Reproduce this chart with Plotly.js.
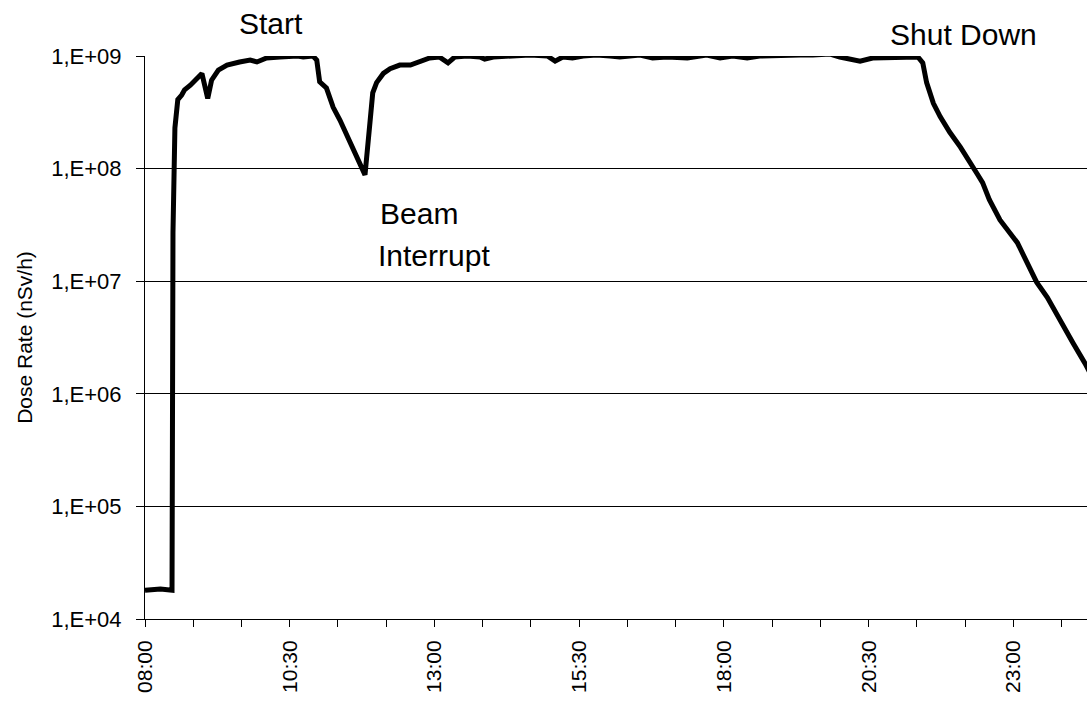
<!DOCTYPE html>
<html>
<head>
<meta charset="utf-8">
<script src="https://cdn.plot.ly/plotly-3.0.1.min.js"></script>
<style>
  html, body { margin: 0; padding: 0; background: #ffffff; }
  #chart { width: 1087px; height: 702px; }
</style>
</head>
<body>
<div id="chart"></div>
<script>
// ---- Data ----
// Time of day (values after midnight belong to the next day)
const times = [
  "08:00","08:16","08:28","08:29","08:31","08:34","08:38","08:41","08:47","08:52",
  "08:59","09:05","09:09","09:16","09:25","09:38","09:49","09:56","10:06","10:20",
  "10:38","10:44","10:54","10:58","11:01","11:08","11:15","11:22","11:46","11:48",
  "11:53","11:56","12:00","12:07","12:14","12:24","12:35","12:45","12:55","13:05",
  "13:14","13:21","13:34","13:47","13:52","14:01","14:18","14:39","14:57","15:05",
  "15:13","15:23","15:34","15:48","16:02","16:12","16:33","16:46","17:01","17:22",
  "17:42","17:56","18:09","18:24","18:37","18:58","19:19","19:32","19:50","20:00",
  "20:21","20:34","20:55","21:18","21:21","21:26","21:30","21:37","21:44","21:54",
  "22:05","22:22","22:28","22:35","22:46","23:04","23:17","23:24","23:35","23:48",
  "00:02","00:14","00:19"
];
// Dose rate in nSv/h
const doseRate = [
  1.8e4, 1.85e4, 1.8e4, 2.7e7, 2.3e8, 4.1e8, 4.5e8, 5.0e8, 5.5e8, 6.1e8,
  7.0e8, 4.2e8, 6.1e8, 7.5e8, 8.3e8, 8.85e8, 9.2e8, 8.85e8, 9.6e8, 9.8e8,
  1.0e9, 9.8e8, 1.0e9, 9.2e8, 5.9e8, 5.2e8, 3.5e8, 2.7e8, 9.1e7, 8.8e7,
  2.5e8, 4.7e8, 5.8e8, 7.0e8, 7.7e8, 8.3e8, 8.3e8, 9.0e8, 9.6e8, 9.8e8,
  8.7e8, 9.8e8, 1.0e9, 9.8e8, 9.4e8, 9.8e8, 1.0e9, 1.02e9, 1.0e9, 9.0e8,
  9.8e8, 9.6e8, 1.0e9, 1.02e9, 1.0e9, 9.8e8, 1.02e9, 9.6e8, 9.8e8, 9.6e8,
  1.02e9, 9.6e8, 1.0e9, 9.6e8, 1.0e9, 1.02e9, 1.02e9, 1.02e9, 1.04e9, 9.8e8,
  9.0e8, 9.6e8, 9.8e8, 9.8e8, 9.8e8, 8.7e8, 5.8e8, 3.8e8, 2.9e8, 2.1e8,
  1.55e8, 9.1e7, 7.5e7, 5.3e7, 3.5e7, 2.2e7, 1.34e7, 9.8e6, 7.2e6, 4.5e6,
  2.8e6, 1.87e6, 1.55e6
];

// Axis ticks
const xTickTimes = [
  "08:00","08:50","09:40","10:30","11:20","12:10","13:00","13:50","14:40","15:30",
  "16:20","17:10","18:00","18:50","19:40","20:30","21:20","22:10","23:00","23:50"
];
const xTickLabels = [
  "08:00","","","10:30","","","13:00","","","15:30",
  "","","18:00","","","20:30","","","23:00",""
];
const yTickVals = [1e4, 1e5, 1e6, 1e7, 1e8, 1e9];
const yTickLabels = ["1,E+04","1,E+05","1,E+06","1,E+07","1,E+08","1,E+09"];

// Annotation labels
const startLabel = {text: "Start", time: "10:11"};
const shutLabel = {text: "Shut Down", time: "22:08"};
const beamLabel = {text: "Beam", time: "12:44"};
const interruptLabel = {text: "Interrupt", time: "13:00"};

// ---- helpers ----
function toHours(s) {
  const [h, m] = s.split(":").map(Number);
  let v = h + m / 60;
  if (v < 8) v += 24; // next day
  return v;
}

const FONT = "'Liberation Sans', Arial, Helvetica, sans-serif";
const xs = times.map(toHours);

const trace = {
  x: xs,
  y: doseRate,
  type: "scatter",
  mode: "lines",
  line: {color: "#000000", width: 5, shape: "linear"},
  hoverinfo: "skip",
  showlegend: false
};

const layout = {
  width: 1087,
  height: 702,
  margin: {l: 145, r: 0, t: 56, b: 83, pad: 0},
  paper_bgcolor: "#ffffff",
  plot_bgcolor: "#ffffff",
  font: {family: FONT, color: "#000000", size: 22},
  showlegend: false,
  xaxis: {
    type: "linear",
    range: [8, 24.27],
    tickmode: "array",
    tickvals: xTickTimes.map(toHours),
    ticktext: xTickLabels,
    tickangle: -90,
    ticks: "outside",
    ticklen: 7,
    tickwidth: 1,
    tickcolor: "#000000",
    showline: true,
    linecolor: "#000000",
    linewidth: 1,
    showgrid: false,
    zeroline: false,
    ticklabelstandoff: 5,
    tickfont: {family: FONT, size: 21, color: "#000000"},
    fixedrange: true
  },
  yaxis: {
    type: "log",
    range: [4, 9],
    tickmode: "array",
    tickvals: yTickVals,
    ticktext: yTickLabels,
    ticks: "outside",
    ticklen: 8,
    tickwidth: 1,
    tickcolor: "#000000",
    showline: true,
    linecolor: "#000000",
    linewidth: 1,
    showgrid: true,
    gridcolor: "#000000",
    gridwidth: 1,
    zeroline: false,
    ticklabelstandoff: 10,
    tickfont: {family: FONT, size: 22, color: "#000000"},
    title: {text: "Dose Rate (nSv/h)", font: {family: FONT, size: 21, color: "#000000"}, standoff: 12},
    fixedrange: true
  },
  annotations: [
    {text: startLabel.text, x: toHours(startLabel.time), xref: "x", y: 1.057, yref: "paper",
     showarrow: false, xanchor: "center", yanchor: "middle", font: {family: FONT, size: 30, color: "#000"}},
    {text: shutLabel.text, x: toHours(shutLabel.time), xref: "x", y: 1.039, yref: "paper",
     showarrow: false, xanchor: "center", yanchor: "middle", font: {family: FONT, size: 30, color: "#000"}},
    {text: beamLabel.text, x: toHours(beamLabel.time), xref: "x", y: 7.6, yref: "y",
     showarrow: false, xanchor: "center", yanchor: "middle", font: {family: FONT, size: 30, color: "#000"}},
    {text: interruptLabel.text, x: toHours(interruptLabel.time), xref: "x", y: 7.23, yref: "y",
     showarrow: false, xanchor: "center", yanchor: "middle", font: {family: FONT, size: 30, color: "#000"}}
  ]
};

Plotly.newPlot("chart", [trace], layout, {displayModeBar: false, staticPlot: true});
</script>
</body>
</html>
